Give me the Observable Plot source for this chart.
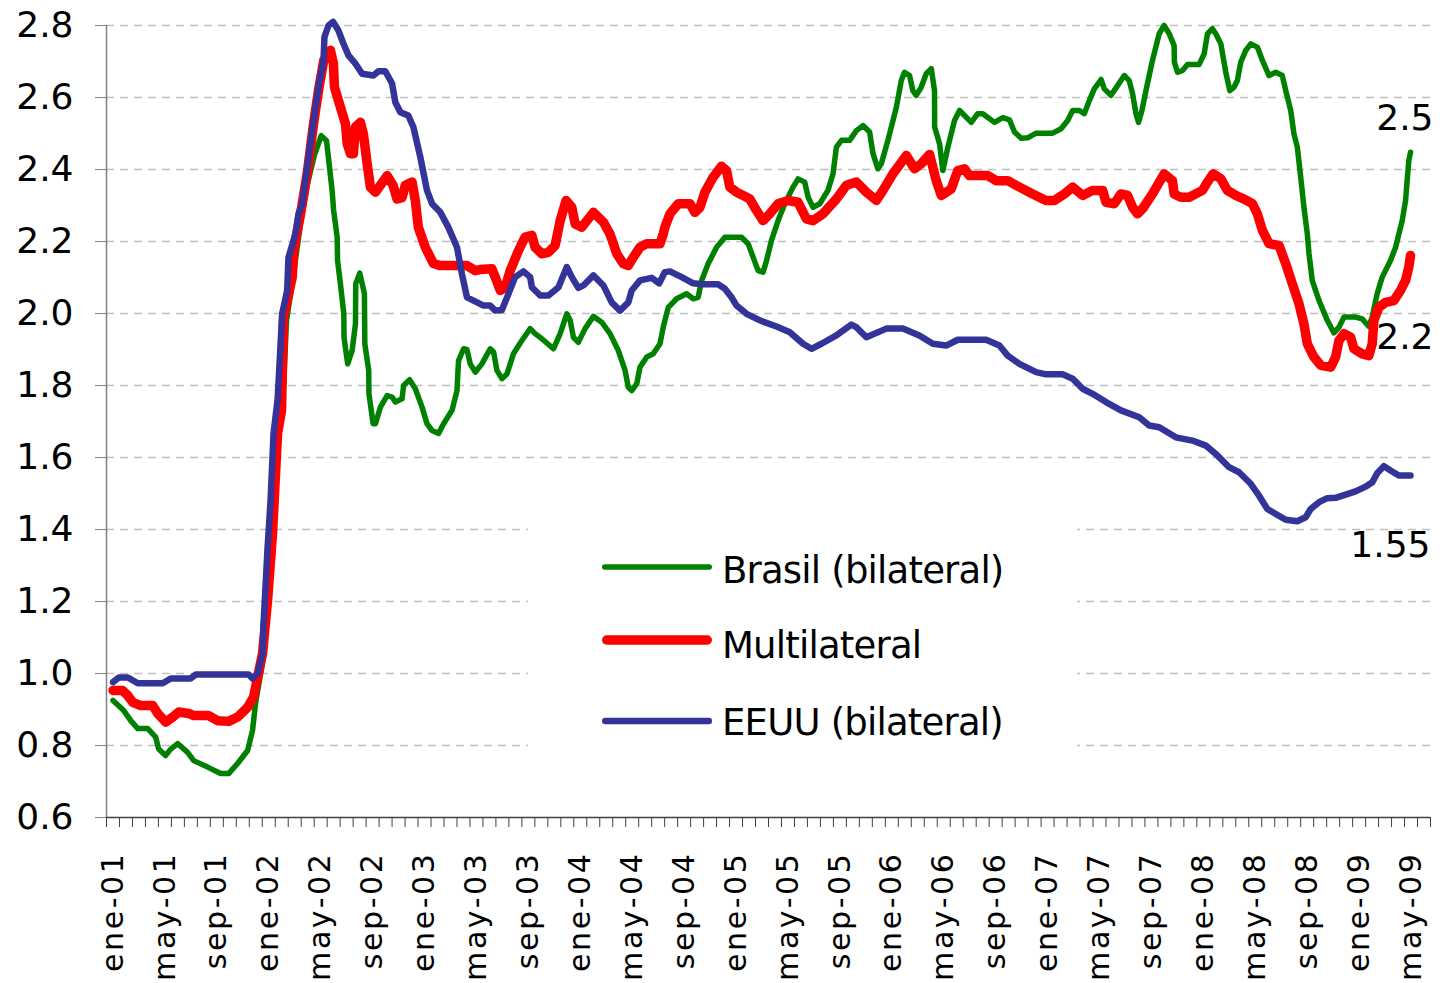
<!DOCTYPE html>
<html><head><meta charset="utf-8">
<script src="https://cdn.jsdelivr.net/npm/d3@7"></script>
<script src="https://cdn.jsdelivr.net/npm/@observablehq/plot@0.6"></script>
<style>
html,body{margin:0;padding:0;background:#fff;overflow:hidden;}
#wrap{position:relative;width:1445px;height:983px;}
#wrap > svg{position:absolute;left:0;top:0;}
#legend{position:absolute;left:528px;top:480px;width:549px;height:300px;background:#fff;}
</style></head><body>
<div id="wrap"><div id="chart"></div><div id="legend"></div></div>
<script>
// month index 0 = ene-01 (January 2001)
const monthLabels = ["ene-01","may-01","sep-01","ene-02","may-02","sep-02","ene-03","may-03","sep-03","ene-04","may-04","sep-04","ene-05","may-05","sep-05","ene-06","may-06","sep-06","ene-07","may-07","sep-07","ene-08","may-08","sep-08","ene-09","may-09"];
const labelMonths = [0,4,8,12,16,20,24,28,32,36,40,44,48,52,56,60,64,68,72,76,80,84,88,92,96,100];
const yTicks = [0.6,0.8,1.0,1.2,1.4,1.6,1.8,2.0,2.2,2.4,2.6,2.8];
const seriesNames = ["Brasil (bilateral)","Multilateral","EEUU (bilateral)"];
const seriesColors = ["#008000","#ff0000","#333399"];
const endLabels = ["2.5","2.2","1.55"];

// [month index, value]
const brasil = [[0,0.925],[0.83,0.897],[1.37,0.869],[1.91,0.847],[2.68,0.847],[3.29,0.823],[3.52,0.79],[4.05,0.772],[4.45,0.79],[4.98,0.805],[5.75,0.781],[6.22,0.758],[7.29,0.74],[8.29,0.722],[8.91,0.722],[9.6,0.75],[10.37,0.786],[10.75,0.842],[10.98,0.917],[11.52,1.03],[11.91,1.17],[12.29,1.36],[12.68,1.62],[13.14,1.8],[13.37,1.98],[13.83,2.09],[14.45,2.25],[14.98,2.36],[15.52,2.44],[16.04,2.494],[16.45,2.48],[16.88,2.342],[17.0,2.286],[17.27,2.212],[17.3,2.147],[17.52,2.083],[17.78,2.0],[17.8,1.934],[18.08,1.86],[18.42,1.897],[18.68,1.971],[18.7,2.083],[19.01,2.112],[19.37,2.055],[19.4,1.916],[19.7,1.842],[19.72,1.777],[20.04,1.694],[20.22,1.694],[20.6,1.74],[21.12,1.772],[21.5,1.768],[21.75,1.754],[22.27,1.763],[22.39,1.8],[22.85,1.816],[23.29,1.791],[23.81,1.74],[24.19,1.694],[24.58,1.675],[25.08,1.667],[25.47,1.694],[26.12,1.731],[26.5,1.786],[26.62,1.869],[27.01,1.902],[27.27,1.9],[27.52,1.86],[27.91,1.837],[28.42,1.86],[29.06,1.902],[29.32,1.893],[29.58,1.842],[29.96,1.819],[30.35,1.832],[30.85,1.888],[31.5,1.925],[32.14,1.958],[32.52,1.944],[33.04,1.93],[33.93,1.902],[34.45,1.944],[34.96,1.999],[35.22,1.981],[35.47,1.934],[35.85,1.92],[36.37,1.958],[37.01,1.992],[37.65,1.976],[38.29,1.944],[38.93,1.897],[39.45,1.842],[39.7,1.795],[39.96,1.786],[40.35,1.805],[40.6,1.851],[41.12,1.879],[41.62,1.888],[42.14,1.916],[42.39,1.962],[42.78,2.017],[43.42,2.041],[44.19,2.055],[44.7,2.041],[45.08,2.045],[45.35,2.092],[45.85,2.138],[46.5,2.184],[47.14,2.212],[48.42,2.212],[48.93,2.194],[49.32,2.156],[49.7,2.119],[50.08,2.115],[50.35,2.147],[50.73,2.203],[51.24,2.258],[51.75,2.305],[52.39,2.351],[52.78,2.374],[53.29,2.365],[53.55,2.323],[53.93,2.295],[54.45,2.305],[55.08,2.342],[55.47,2.388],[55.73,2.462],[56.12,2.481],[56.75,2.481],[57.27,2.508],[57.78,2.522],[58.29,2.504],[58.55,2.444],[58.93,2.402],[59.19,2.416],[59.7,2.481],[60.35,2.573],[60.73,2.647],[60.98,2.67],[61.37,2.661],[61.62,2.619],[61.88,2.606],[62.27,2.629],[62.65,2.666],[63.04,2.68],[63.29,2.619],[63.3,2.518],[63.68,2.471],[63.93,2.397],[64.32,2.462],[64.83,2.536],[65.22,2.564],[65.6,2.55],[66.12,2.531],[66.62,2.555],[67.01,2.555],[67.91,2.531],[68.55,2.544],[69.06,2.538],[69.45,2.504],[69.96,2.487],[70.47,2.488],[71.12,2.501],[72.39,2.501],[73.04,2.513],[73.55,2.536],[73.93,2.564],[74.45,2.564],[74.83,2.555],[75.22,2.592],[75.6,2.624],[76.12,2.65],[76.37,2.624],[76.88,2.606],[77.39,2.633],[77.91,2.661],[78.29,2.647],[78.55,2.61],[78.81,2.555],[79.01,2.531],[79.27,2.564],[79.58,2.619],[80.08,2.703],[80.6,2.777],[80.98,2.8],[81.37,2.777],[81.75,2.744],[81.77,2.698],[82.01,2.67],[82.39,2.675],[82.78,2.692],[83.68,2.692],[84.06,2.721],[84.32,2.777],[84.7,2.791],[84.96,2.777],[85.35,2.749],[85.73,2.67],[86.04,2.619],[86.37,2.629],[86.62,2.647],[86.88,2.698],[87.27,2.731],[87.65,2.749],[88.16,2.74],[88.55,2.703],[89.06,2.661],[89.58,2.67],[90.08,2.661],[90.35,2.619],[90.73,2.564],[90.98,2.499],[91.24,2.462],[91.5,2.379],[91.75,2.295],[92.01,2.221],[92.14,2.166],[92.39,2.092],[92.91,2.036],[93.55,1.981],[94.06,1.946],[94.45,1.962],[94.83,1.99],[95.73,1.99],[96.24,1.985],[96.75,1.964],[97.01,1.99],[97.39,2.055],[97.78,2.101],[98.42,2.147],[98.81,2.184],[99.32,2.258],[99.58,2.314],[99.7,2.369],[99.83,2.425],[99.96,2.448]];

const multilateral = [[0,0.953],[0.73,0.953],[1.14,0.939],[1.52,0.92],[2.14,0.911],[3.06,0.911],[3.45,0.889],[4.06,0.865],[4.6,0.879],[5.06,0.893],[5.83,0.889],[6.22,0.883],[7.37,0.883],[8.06,0.869],[8.91,0.867],[9.6,0.879],[10.37,0.906],[10.83,0.934],[11.14,0.99],[11.52,1.055],[11.91,1.203],[12.29,1.389],[12.68,1.667],[12.98,1.73],[13.14,1.99],[13.81,2.101],[13.91,2.175],[14.45,2.277],[14.96,2.388],[15.45,2.527],[15.83,2.619],[16.24,2.703],[16.75,2.731],[16.98,2.694],[17.06,2.629],[17.52,2.573],[17.91,2.527],[18.04,2.472],[18.29,2.444],[18.52,2.444],[18.68,2.518],[19.06,2.531],[19.29,2.499],[19.58,2.416],[19.83,2.351],[20.22,2.337],[20.6,2.356],[21.12,2.383],[21.58,2.356],[21.88,2.318],[22.27,2.322],[22.52,2.356],[23.04,2.365],[23.29,2.314],[23.52,2.24],[24.06,2.184],[24.68,2.139],[25.22,2.133],[27.27,2.133],[27.91,2.119],[28.29,2.122],[29.19,2.124],[29.45,2.101],[29.83,2.064],[30.22,2.073],[30.6,2.119],[31.24,2.175],[31.75,2.212],[32.27,2.217],[32.52,2.184],[33.04,2.166],[33.55,2.17],[34.06,2.189],[34.45,2.258],[34.91,2.314],[35.35,2.295],[35.6,2.249],[36.12,2.24],[37.01,2.281],[37.78,2.254],[38.29,2.221],[38.81,2.166],[39.32,2.138],[39.7,2.133],[40.08,2.156],[40.6,2.184],[41.12,2.194],[42.14,2.194],[42.39,2.221],[42.52,2.24],[42.91,2.277],[43.55,2.305],[44.45,2.305],[44.83,2.281],[45.22,2.295],[45.6,2.337],[46.24,2.379],[46.88,2.409],[47.27,2.397],[47.52,2.351],[48.04,2.337],[48.55,2.328],[49.06,2.318],[49.58,2.286],[50.08,2.258],[50.6,2.277],[51.24,2.305],[52.01,2.314],[52.78,2.309],[53.42,2.263],[53.93,2.258],[54.7,2.277],[55.73,2.318],[56.5,2.356],[57.27,2.365],[58.04,2.337],[58.81,2.314],[59.32,2.342],[60.08,2.388],[61.12,2.439],[61.75,2.402],[62.27,2.416],[62.91,2.442],[63.42,2.369],[63.81,2.328],[64.58,2.346],[65.08,2.397],[65.6,2.402],[65.98,2.383],[67.39,2.383],[68.04,2.369],[68.93,2.369],[69.58,2.356],[70.85,2.332],[71.88,2.314],[72.52,2.314],[73.29,2.332],[73.93,2.351],[74.7,2.328],[75.47,2.342],[76.24,2.342],[76.5,2.309],[77.14,2.305],[77.65,2.332],[78.16,2.328],[78.55,2.295],[78.93,2.277],[79.32,2.291],[80.08,2.332],[80.98,2.388],[81.62,2.369],[81.75,2.332],[82.27,2.323],[82.91,2.323],[83.93,2.342],[84.32,2.365],[84.75,2.388],[85.35,2.374],[85.85,2.342],[86.5,2.328],[87.14,2.318],[87.78,2.305],[88.16,2.277],[88.55,2.231],[89.06,2.194],[89.83,2.189],[90.35,2.138],[90.85,2.083],[91.37,2.027],[91.75,1.971],[92.01,1.916],[92.52,1.879],[93.04,1.856],[93.81,1.851],[94.19,1.879],[94.45,1.925],[94.83,1.944],[95.35,1.934],[95.6,1.902],[96.24,1.888],[96.75,1.883],[97.01,1.916],[97.14,1.981],[97.52,2.017],[98.04,2.031],[98.68,2.036],[99.19,2.064],[99.58,2.092],[99.83,2.129],[99.96,2.161]];

const eeuu = [[0,0.976],[0.45,0.989],[1.14,0.989],[1.91,0.973],[3.83,0.973],[4.45,0.986],[5.98,0.986],[6.37,0.997],[10.45,0.997],[10.75,0.986],[11.14,1.0],[11.52,1.055],[11.6,1.139],[11.91,1.35],[12.14,1.48],[12.37,1.667],[12.68,1.76],[13.04,2.0],[13.42,2.064],[13.52,2.156],[14.06,2.221],[14.29,2.277],[14.58,2.305],[14.96,2.406],[15.45,2.536],[15.83,2.629],[16.22,2.703],[16.29,2.768],[16.6,2.8],[16.96,2.81],[17.37,2.786],[17.75,2.75],[18.14,2.717],[18.68,2.694],[19.19,2.666],[20.06,2.661],[20.45,2.673],[20.98,2.673],[21.5,2.639],[21.75,2.587],[22.14,2.559],[22.75,2.55],[23.14,2.518],[23.68,2.434],[24.19,2.342],[24.58,2.305],[25.22,2.281],[25.83,2.24],[26.5,2.184],[26.88,2.11],[27.27,2.045],[28.55,2.022],[29.06,2.022],[29.45,2.008],[29.96,2.01],[30.47,2.055],[30.98,2.101],[31.62,2.117],[32.14,2.101],[32.27,2.073],[32.91,2.05],[33.55,2.05],[34.32,2.073],[34.96,2.129],[35.35,2.101],[35.85,2.071],[36.24,2.078],[37.01,2.106],[37.78,2.078],[38.42,2.031],[39.06,2.008],[39.7,2.031],[39.96,2.064],[40.6,2.092],[41.5,2.099],[42.08,2.084],[42.52,2.115],[42.91,2.117],[43.81,2.101],[44.7,2.084],[45.35,2.081],[46.62,2.081],[47.14,2.069],[47.65,2.045],[48.04,2.022],[48.81,1.999],[49.96,1.979],[51.12,1.964],[52.14,1.948],[53.16,1.916],[53.81,1.902],[54.58,1.916],[55.73,1.939],[56.88,1.969],[57.27,1.962],[58.04,1.934],[59.58,1.958],[60.85,1.958],[62.12,1.939],[63.16,1.916],[64.19,1.911],[65.08,1.927],[67.27,1.927],[68.29,1.911],[68.93,1.883],[69.83,1.86],[71.12,1.837],[71.88,1.831],[73.16,1.831],[73.93,1.819],[74.7,1.791],[75.47,1.777],[76.5,1.754],[77.65,1.731],[79.06,1.712],[79.83,1.689],[80.6,1.684],[81.88,1.656],[83.16,1.647],[84.19,1.633],[84.96,1.61],[85.98,1.573],[86.75,1.559],[87.65,1.527],[88.29,1.494],[88.93,1.457],[89.58,1.443],[90.35,1.427],[91.24,1.423],[91.88,1.434],[92.27,1.457],[92.91,1.476],[93.55,1.487],[94.19,1.488],[94.96,1.497],[95.73,1.506],[96.5,1.519],[97.01,1.531],[97.39,1.556],[97.91,1.576],[98.42,1.564],[99.06,1.55],[99.96,1.55]];

const series = [brasil, multilateral, eeuu];
const widths = [5.5, 9.5, 6.5];
const monthTicks = d3.range(-0.5, 102, 1);

const chart = Plot.plot({
  width: 1445, height: 983,
  marginLeft: 106, marginRight: 15, marginTop: 25, marginBottom: 166,
  x: {domain: [-0.5, 101.5]},
  y: {domain: [0.6, 2.8]},
  style: {fontFamily: "DejaVu Sans, sans-serif", background: "white", color: "black"},
  marks: [
    Plot.gridY(yTicks.filter(d => d > 0.6), {stroke: "#bfbfbf", strokeOpacity: 1, strokeWidth: 1.4, strokeDasharray: "8,6"}),
    Plot.ruleX([-0.5], {stroke: "#808080", strokeWidth: 1.5}),
    Plot.axisY(yTicks, {tickSize: 11, tickPadding: 22, fontSize: 36, tickFormat: d => d.toFixed(1), stroke: "#808080", fill: "black", label: null}),
    Plot.ruleY([0.6], {stroke: "#404040", strokeWidth: 1.5}),
    Plot.axisX(monthTicks, {tickSize: 10, tickFormat: () => "", stroke: "#404040", label: null}),
    Plot.text(labelMonths, {x: d => d, frameAnchor: "bottom", rotate: -90, textAnchor: "end", lineAnchor: "middle", dy: 34, text: (d, i) => monthLabels[i], fontSize: 30, fill: "black"}),
    ...series.map((s, i) => Plot.line(s, {x: d => d[0], y: d => d[1], stroke: seriesColors[i], strokeWidth: widths[i], strokeLinejoin: "round", strokeLinecap: "round"})),
    Plot.text([brasil[brasil.length - 1]], {x: d => d[0], y: d => d[1], text: () => endLabels[0], textAnchor: "end", lineAnchor: "bottom", dx: 23, dy: -22, fontSize: 36, fill: "black"}),
    Plot.text([multilateral[multilateral.length - 1]], {x: d => d[0], y: d => d[1], text: () => endLabels[1], textAnchor: "end", lineAnchor: "bottom", dx: 23, dy: 93, fontSize: 36, fill: "black"}),
    Plot.text([eeuu[eeuu.length - 1]], {x: d => d[0], y: d => d[1], text: () => endLabels[2], textAnchor: "end", lineAnchor: "bottom", dx: 20, dy: 81, fontSize: 36, fill: "black"})
  ]
});
document.getElementById("chart").appendChild(chart);
d3.select(chart).selectAll("text").filter(function() { return monthLabels.includes(this.textContent); }).style("letter-spacing", "2.6px");

// legend
const lg = d3.select("#legend").append("svg").attr("width", 549).attr("height", 300);
const lineY = [87, 160, 241];
const textY = [103, 178, 255];
seriesNames.forEach((name, i) => {
  lg.append("line").attr("x1", 74 + widths[i] / 2).attr("x2", 184 - widths[i] / 2)
    .attr("y1", lineY[i]).attr("y2", lineY[i])
    .attr("stroke", seriesColors[i]).attr("stroke-width", widths[i]).attr("stroke-linecap", "round");
  lg.append("text").attr("x", 194).attr("y", textY[i]).text(name)
    .attr("font-family", "DejaVu Sans, sans-serif").attr("font-size", 37)
    .style("letter-spacing", "-0.8px").attr("fill", "black");
});
</script>
</body></html>
